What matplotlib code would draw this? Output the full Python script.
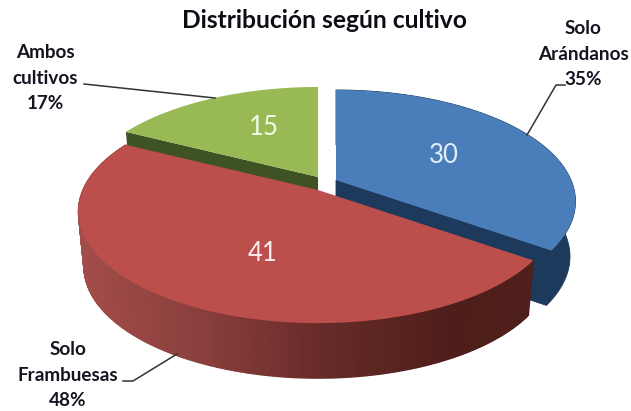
import numpy as np
import matplotlib
matplotlib.use("Agg")
import matplotlib.pyplot as plt
from matplotlib.colors import to_rgb

# data
categories = ["Solo\nArándanos", "Solo\nFrambuesas", "Ambos\ncultivos"]
values = [30, 41, 15]
percents = ["35%", "48%", "17%"]
title = "Distribución según cultivo"

top_colors = ["#4a7ebb", "#bc4f4c", "#98b954"]
wall_colors = ["#1d3a5c", "#5a2320", "#3f5223"]

# apex of every slice, in pixels (blue one is pulled out)
apex = [(336, 180), (318, 190), (318, 177)]

# pie "camera"
R_X = 235.0
R_Y = 107.4
K = 0.193
WALL = 55.0
SHRINK = 0.977

plt.rcParams["font.family"] = ["Lato", "DejaVu Sans"]

fig = plt.figure(figsize=(6.31, 4.11), dpi=100)
ax = fig.add_axes([0, 0, 1, 1])
ax.set_xlim(0, 631)
ax.set_ylim(411, 0)
ax.axis("off")


def rim(cx, cy, t):
    # t is clockwise from 12 o'clock; perspective makes the back smaller
    u, v = np.sin(t), np.cos(t)
    w = 1 + K * v
    return cx + R_X * u / w, cy - R_Y * v / w


def bottom(cx, x, y):
    return cx + (x - cx) * SHRINK, y + WALL


# slice angles from the values
fracs = np.array(values) / sum(values)
edges = np.concatenate([[0], np.cumsum(fracs)]) * 2 * np.pi


def slice_top(i):
    cx, cy = apex[i]
    t = np.linspace(edges[i], edges[i + 1], 160)
    x, y = rim(cx, cy, t)
    return np.r_[cx, x], np.r_[cy, y]


# blue: walls first, then top
cx, cy = apex[0]
t = np.linspace(edges[0], edges[1], 160)
x, y = rim(cx, cy, t)
xb, yb = bottom(cx, x, y)
ax.fill(np.r_[x, xb[::-1]], np.r_[y, yb[::-1]], facecolor=wall_colors[0],
        edgecolor=wall_colors[0], lw=0.6, zorder=1)
ax.fill([cx, x[-1], xb[-1], bottom(cx, cx, cy)[0]], [cy, y[-1], yb[-1], cy + WALL],
        facecolor=wall_colors[0], edgecolor=wall_colors[0], lw=0.6, zorder=1)
xt, yt = slice_top(0)
ax.fill(xt, yt, color=top_colors[0], lw=0, zorder=2)

# green
cx, cy = apex[2]
x, y = rim(cx, cy, edges[2])
xb, yb = bottom(cx, x, y)
ax.fill([cx, x, xb, cx], [cy, y, yb, cy + WALL], color=wall_colors[2], lw=0, zorder=1)
xt, yt = slice_top(2)
ax.fill(xt, yt, color=top_colors[2], lw=0, zorder=2)

# red: outer wall with a left to right shading, drawn as thin strips
stops_x = [78, 200, 330, 450, 535]
stops_c = np.array([to_rgb(c) for c in ["#a34d4a", "#8a3f3c", "#652a27", "#4f1e1a", "#4f201b"]])
cx, cy = apex[1]
t = np.linspace(edges[1], edges[2], 260)
x, y = rim(cx, cy, t)
xb, yb = bottom(cx, x, y)
for j in range(len(t) - 1):
    mid = (x[j] + x[j + 1]) / 2
    col = [np.interp(mid, stops_x, stops_c[:, c]) for c in range(3)]
    ax.fill([x[j], x[j + 1], xb[j + 1], xb[j]], [y[j], y[j + 1], yb[j + 1], yb[j]],
            facecolor=col, edgecolor=col, lw=1.0, zorder=3)
xt, yt = slice_top(1)
ax.fill(xt, yt, color=top_colors[1], lw=0, zorder=4)

# values on the slices
value_pos = [(444, 155), (263, 253), (264, 127)]
value_colors = ["#e4eef8", "#fbeeee", "#f4f8ea"]
for val, pos, col in zip(values, value_pos, value_colors):
    ax.text(pos[0], pos[1], str(val), color=col, fontsize=18.5, ha="center", va="center", zorder=6)

# outside labels and leader lines
label_pos = [(583, 54), (68, 375), (45, 78)]
leaders = [
    ([527, 556, 565], [135, 85, 85]),
    ([177, 133, 123], [354, 381, 381]),
    ([215, 84], [98, 84]),
]
for cat, pct, pos, (lx, ly) in zip(categories, percents, label_pos, leaders):
    ax.text(pos[0], pos[1], f"{cat}\n{pct}", color="#141420", fontsize=13.6, fontweight="bold",
            ha="center", va="center", linespacing=1.58, zorder=6)
    ax.plot(lx, ly, color="#333333", lw=1.1, zorder=5)

ax.text(324, 21, title, color="#0c0c14", fontsize=17.7, fontweight="bold", ha="center", va="center")

fig.savefig("out.png", dpi=100)
plt.close(fig)
